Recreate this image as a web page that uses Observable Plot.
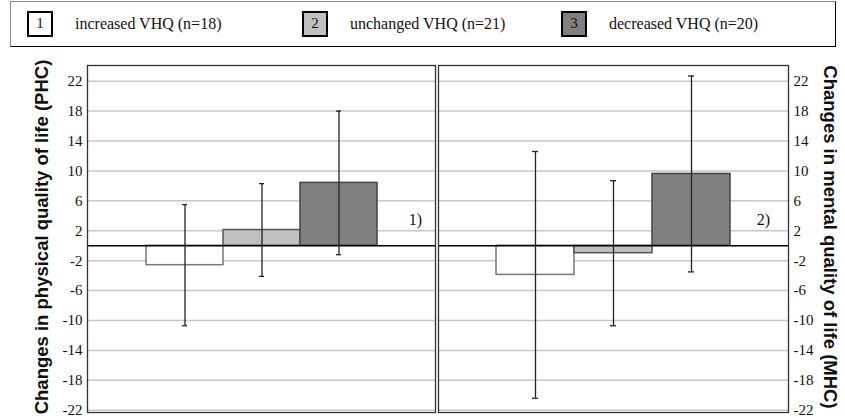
<!DOCTYPE html>
<html><head><meta charset="utf-8">
<script src="https://cdn.jsdelivr.net/npm/d3@7"></script>
<script src="https://cdn.jsdelivr.net/npm/@observablehq/plot@0.6"></script>
<style>
html,body{margin:0;padding:0;background:#fff;}
#wrap{position:relative;width:845px;height:418px;overflow:hidden;font-family:"Liberation Serif",serif;}
#legend{position:absolute;left:10px;top:1px;width:826px;height:46px;border:1px solid #000;border-top-color:#888;border-left-color:#888;box-sizing:border-box;}
.item{position:absolute;top:8px;height:27px;display:flex;align-items:center;font-size:16px;color:#111;}
.sw{width:22px;height:22px;border:2.5px solid #000;display:flex;align-items:center;justify-content:center;font-size:15px;margin-right:22px;box-sizing:content-box;}
.plot{position:absolute;top:50px;}
</style>
</head><body>
<div id="wrap">
  <div id="legend"></div>
  <div id="left" class="plot" style="left:0px"></div>
  <div id="right" class="plot" style="left:437px"></div>
</div>
<script>
// ---- data ----
const groups = ["1", "2", "3"];
const groupLabels = ["increased VHQ (n=18)", "unchanged VHQ (n=21)", "decreased VHQ (n=20)"];
const groupFills = ["#ffffff", "#c0c0c0", "#808080"];
const groupStrokes = ["#777777", "#555555", "#444444"];
const phcMean = [-2.6, 2.1, 8.4];
const phcSD = [8.1, 6.2, 9.6];
const mhcMean = [-3.9, -1.0, 9.6];
const mhcSD = [16.5, 9.7, 13.1];
const yTicks = [-22, -18, -14, -10, -6, -2, 2, 6, 10, 14, 18, 22];
const yDomain = [-22.3, 24.1];
const leftTitle = "Changes in physical quality of life (PHC)";
const rightTitle = "Changes in mental quality of life (MHC)";
const panelLabels = ["1)", "2)"];

// ---- legend ----
const legendX = [16, 291, 550];
const legend = document.getElementById("legend");
groups.forEach((g, i) => {
  const it = document.createElement("div");
  it.className = "item";
  it.style.left = legendX[i] + "px";
  const sw = document.createElement("div");
  sw.className = "sw";
  sw.style.background = groupFills[i];
  sw.textContent = g;
  const t = document.createElement("span");
  t.textContent = groupLabels[i];
  it.appendChild(sw); it.appendChild(t);
  legend.appendChild(it);
});

function rows(means, sds) {
  return groups.map((g, i) => ({g, mean: means[i], lo: means[i] - sds[i], hi: means[i] + sds[i], fill: groupFills[i], stroke: groupStrokes[i]}));
}

function panel(data, opts) {
  return Plot.plot({
    width: opts.width, height: 368,
    marginTop: 15, marginBottom: 6,
    marginLeft: opts.marginLeft, marginRight: opts.marginRight,
    style: {fontFamily: "Liberation Serif", fontSize: "15px", color: "#000", background: "transparent", overflow: "visible"},
    x: {type: "band", domain: groups, paddingInner: 0, paddingOuter: 0.74, axis: null},
    y: {domain: yDomain, axis: null},
    marks: [
      Plot.gridY(yTicks, {stroke: "#c8c8c8", strokeOpacity: 1, strokeWidth: 1.5}),
      Plot.barY(data, {x: "g", y: "mean", fill: d => d.fill, stroke: d => d.stroke, strokeWidth: 1.5}),
      Plot.ruleY([0], {stroke: "#000", strokeWidth: 1.3}),
      Plot.ruleX(data, {x: "g", y1: "lo", y2: "hi", stroke: "#222", strokeWidth: 1.3}),
      Plot.tickY(data, {x: "g", y: "lo", stroke: "#222", strokeWidth: 1.3, insetLeft: 36, insetRight: 36}),
      Plot.tickY(data, {x: "g", y: "hi", stroke: "#222", strokeWidth: 1.3, insetLeft: 36, insetRight: 36}),
      Plot.axisY(yTicks, {anchor: opts.anchor, tickSize: 0, tickPadding: 5, fontSize: 15, label: null, fill: "#111", tickFormat: d => String(d)}),
      Plot.text([opts.title], {frameAnchor: opts.anchor, textAnchor: "middle", lineAnchor: "middle",
        rotate: opts.anchor === "left" ? -90 : 90, dx: opts.titleDx, dy: -2,
        fontFamily: "Liberation Sans", fontWeight: "bold", fontSize: 18.5, fill: "#111"}),
      Plot.text([opts.panelLabel], {frameAnchor: "right", textAnchor: "middle", dx: opts.plDx, dy: -19, fontSize: 16, fill: "#111"}),
      Plot.frame({stroke: "#333", strokeWidth: 1.3})
    ]
  });
}

document.getElementById("left").appendChild(panel(rows(phcMean, phcSD), {
  width: 436, marginLeft: 87, marginRight: 1, anchor: "left", title: leftTitle, titleDx: -45, panelLabel: panelLabels[0], plDx: -20
}));
document.getElementById("right").appendChild(panel(rows(mhcMean, mhcSD), {
  width: 408, marginLeft: 1, marginRight: 57, anchor: "right", title: rightTitle, titleDx: 41, panelLabel: panelLabels[1], plDx: -25
}));
</script>
</body></html>
